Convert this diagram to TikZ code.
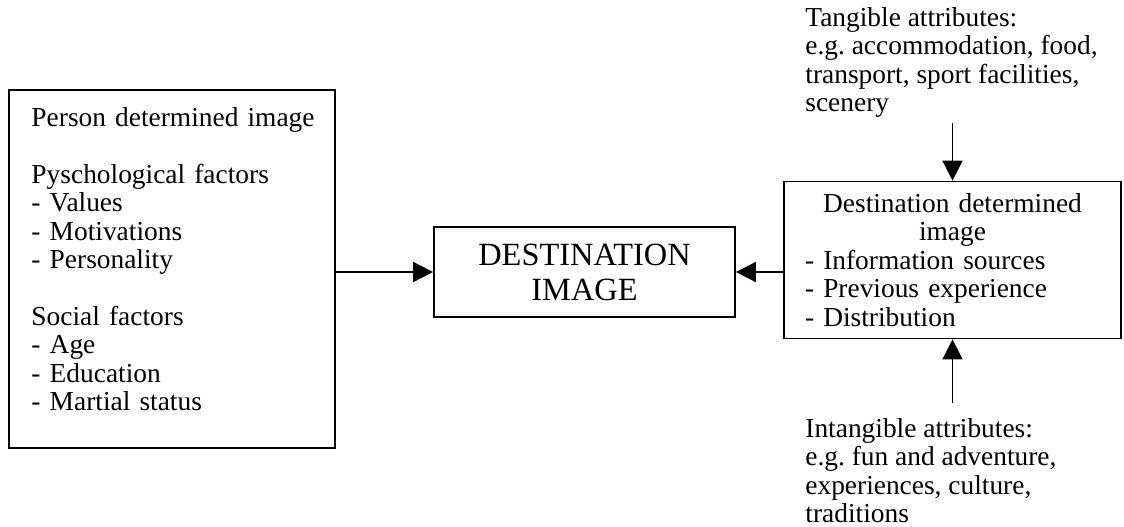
\documentclass[tikz,border=0pt]{standalone}
\usepackage{fontspec}
\setmainfont{Liberation Serif}
\usetikzlibrary{arrows.meta,positioning,calc}
\frenchspacing

\begin{document}
\begin{tikzpicture}[x=0.5pt, y=0.5pt,
    factors/.style={draw, line width=0.9pt, font=\fontsize{13.7}{14.2}\selectfont, text width=140.5pt, minimum width=163pt, minimum height=179pt, align=left, inner sep=0pt},
    core/.style={draw, line width=0.9pt, font=\fontsize{16.2}{17.5}\selectfont, minimum width=150.5pt, minimum height=45pt, align=center, inner sep=0pt},
    destbox/.style={draw, line width=0.9pt, font=\fontsize{13.7}{14.2}\selectfont, text width=147.5pt, minimum width=168.5pt, minimum height=78.5pt, align=left, inner sep=0pt},
    attr/.style={font=\fontsize{13.7}{14.2}\selectfont, align=left, inner sep=0pt, anchor=north west},
    link/.style={-{Triangle[length=10pt, width=10pt]}, line width=0.9pt}
]
\useasboundingbox (0,0) rectangle (1124,-526);
\node[factors] (person) at (172,-269) {\mbox{Person determined image}\\[14.2pt]
    Pyschological factors\\- Values\\- Motivations\\- Personality\\[14.2pt]
    Social factors\\- Age\\- Education\\- Martial status\\[-4.2pt]\mbox{}};
\node[core] (image) at (584.5,-272) {DESTINATION\\IMAGE};
\node[destbox] (dest) at (952.5,-260) {\makebox[147.5pt][c]{Destination determined}\\
    \makebox[147.5pt][c]{image}\\- Information sources\\- Previous experience\\- Distribution};
\node[attr] (tangible) at (805,-7) {Tangible attributes:\\e.g. accommodation, food,\\transport, sport facilities,\\scenery};
\node[attr] (intangible) at (805,-418) {Intangible attributes:\\e.g. fun and adventure,\\experiences, culture,\\traditions};
\draw[link] (person.east |- image.west) -- (image.west);
\draw[link] (dest.west |- image.east) -- (image.east);
\draw[link, shorten <=2.5pt] (tangible.south -| dest.north) -- (dest.north);
\draw[link, shorten <=7.5pt] (intangible.north -| dest.south) -- (dest.south);
\end{tikzpicture}
\end{document}
